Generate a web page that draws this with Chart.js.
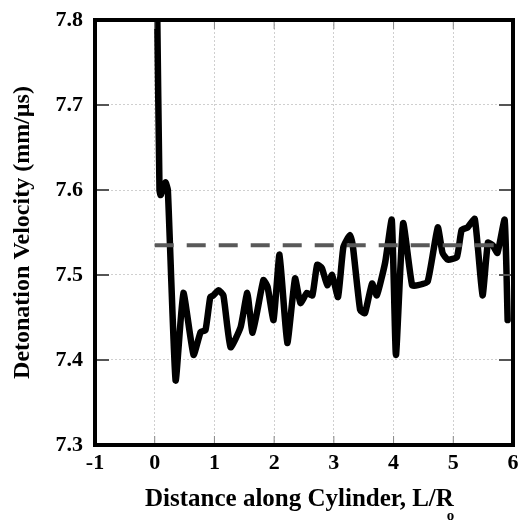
<!DOCTYPE html>
<html>
<head>
<meta charset="utf-8">
<script src="https://cdn.jsdelivr.net/npm/chart.js@4"></script>
<style>
  html, body { margin: 0; padding: 0; background: #fff; }
  #wrap { width: 519px; height: 521px; }
</style>
</head>
<body>
<div id="wrap"><canvas id="detonation"></canvas></div>
<script>
// distance along cylinder (L/Ro) and measured detonation velocity (mm/us)
const distance = [0.04, 0.08, 0.10, 0.18, 0.22, 0.35, 0.48, 0.65, 0.77, 0.85,
  0.93, 0.98, 1.07, 1.15, 1.27, 1.44, 1.55, 1.64, 1.82, 1.89,
  1.99, 2.09, 2.22, 2.35, 2.44, 2.55, 2.64, 2.72, 2.80, 2.89,
  2.97, 3.07, 3.16, 3.27, 3.32, 3.44, 3.52, 3.64, 3.72, 3.86,
  3.97, 4.04, 4.16, 4.31, 4.41, 4.57, 4.74, 4.82, 4.91, 5.06,
  5.14, 5.24, 5.36, 5.49, 5.58, 5.66, 5.74, 5.86, 5.91];
const velocity = [7.82, 7.600, 7.594, 7.609, 7.600, 7.376, 7.479, 7.406, 7.433, 7.435,
  7.474, 7.476, 7.482, 7.476, 7.415, 7.439, 7.479, 7.432, 7.494, 7.486,
  7.447, 7.524, 7.420, 7.496, 7.467, 7.479, 7.476, 7.512, 7.508, 7.488,
  7.500, 7.474, 7.533, 7.547, 7.533, 7.459, 7.455, 7.490, 7.476, 7.515,
  7.565, 7.406, 7.561, 7.488, 7.488, 7.492, 7.556, 7.526, 7.518, 7.521,
  7.553, 7.556, 7.566, 7.476, 7.538, 7.535, 7.526, 7.565, 7.447];

// steady-state average (dashed)
const avgRange = [0.0, 5.85];
const avgVelocity = 7.535;

const xTicks = [-1, 0, 1, 2, 3, 4, 5, 6];
const yTicks = [7.3, 7.4, 7.5, 7.6, 7.7, 7.8];

const serif = "'Liberation Serif', 'Times New Roman', serif";

// frame, inward tick marks and the x title with its subscript
const frame = {
  id: 'frame',
  afterDatasetsDraw(chart) {
    const { ctx, chartArea: a, scales } = chart;
    ctx.save();
    ctx.strokeStyle = '#555';
    ctx.lineWidth = 2;
    yTicks.forEach(v => {
      const y = scales.y.getPixelForValue(v);
      ctx.beginPath();
      ctx.moveTo(a.left, y); ctx.lineTo(a.left + 14, y);
      ctx.moveTo(a.right, y); ctx.lineTo(a.right - 14, y);
      ctx.stroke();
    });
    ctx.strokeStyle = '#888';
    ctx.lineWidth = 1;
    xTicks.forEach(v => {
      const x = scales.x.getPixelForValue(v);
      ctx.beginPath();
      ctx.moveTo(x, a.bottom); ctx.lineTo(x, a.bottom - 9);
      ctx.moveTo(x, a.top); ctx.lineTo(x, a.top + 9);
      ctx.stroke();
    });
    ctx.strokeStyle = '#000';
    ctx.lineWidth = 4;
    ctx.strokeRect(a.left, a.top, a.right - a.left, a.bottom - a.top);

    const title = 'Distance along Cylinder, L/R';
    ctx.fillStyle = '#000';
    ctx.font = 'bold 25px ' + serif;
    ctx.textBaseline = 'alphabetic';
    const w = ctx.measureText(title).width;
    const x0 = 145;
    ctx.fillText(title, x0, 506);
    ctx.font = 'bold 15px ' + serif;
    ctx.fillText('o', x0 + w - 7, 520);
    ctx.restore();
  }
};

new Chart(
  document.getElementById('detonation'),
  {
    type: 'line',
    data: {
      datasets: [
        {
          label: 'average',
          data: avgRange.map(x => ({ x: x, y: avgVelocity })),
          borderColor: '#595959',
          borderWidth: 4,
          borderDash: [19, 13],
          pointRadius: 0,
          order: 0
        },
        {
          label: 'velocity',
          data: distance.map((x, i) => ({ x: x, y: velocity[i] })),
          borderColor: '#000',
          borderWidth: 6.5,
          borderJoinStyle: 'round',
          borderCapStyle: 'round',
          tension: 0.15,
          pointRadius: 0,
          order: 1
        }
      ]
    },
    options: {
      responsive: true,
      maintainAspectRatio: false,
      animation: false,
      layout: { padding: { top: 20, right: 6, left: 0, bottom: 0 } },
      plugins: {
        legend: { display: false },
        tooltip: { enabled: false }
      },
      scales: {
        x: {
          type: 'linear',
          min: -1,
          max: 6,
          afterBuildTicks: s => { s.ticks = xTicks.map(v => ({ value: v })); },
          afterFit: s => { s.height = 76; s.paddingLeft = 0; s.paddingRight = 0; },
          grid: { color: '#cfcfcf', drawTicks: false },
          border: { display: false, dash: [2, 2] },
          ticks: {
            padding: 5,
            color: '#000',
            font: { family: serif, size: 22, weight: 'bold' },
            maxRotation: 0
          }
        },
        y: {
          type: 'linear',
          min: 7.3,
          max: 7.8,
          afterBuildTicks: s => { s.ticks = yTicks.map(v => ({ value: v })); },
          afterFit: s => { s.width = 95; s.paddingTop = 0; s.paddingBottom = 0; },
          grid: { color: '#cfcfcf', drawTicks: false },
          border: { display: false, dash: [2, 2] },
          title: {
            display: true,
            text: 'Detonation Velocity (mm/µs)',
            color: '#000',
            font: { family: serif, size: 24, weight: 'bold' },
            padding: { top: 8, bottom: 0 }
          },
          ticks: {
            padding: 12,
            color: '#000',
            font: { family: serif, size: 22, weight: 'bold' },
            callback: v => v.toFixed(1)
          }
        }
      }
    },
    plugins: [frame]
  }
);
</script>
</body>
</html>
